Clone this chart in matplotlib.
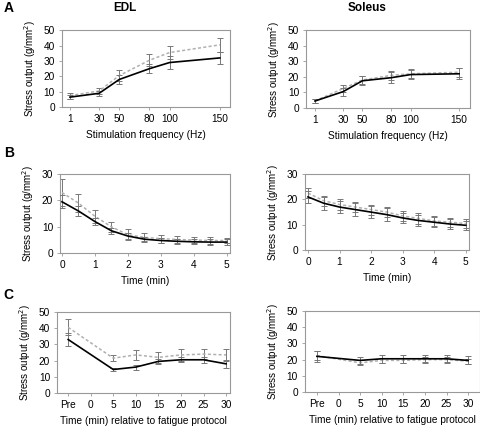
import matplotlib
matplotlib.use("Agg")
import matplotlib.pyplot as plt
import numpy as np

plt.rcParams['font.family'] = ['Liberation Sans', 'DejaVu Sans']

# panel A: force-frequency
freq = [1, 30, 50, 80, 100, 150]
edl_freq_solid = [6.5, 9, 18, 25, 29, 32]
edl_freq_solid_err = [1.5, 1.5, 3, 3, 4, 4]
edl_freq_dash = [7.5, 10.5, 20.5, 30.5, 35.5, 40.5]
edl_freq_dash_err = [2, 2, 3.5, 4, 4.5, 4.5]
sol_freq_solid = [4.5, 10.5, 17.5, 19.5, 21.5, 22]
sol_freq_solid_err = [1, 2.5, 3, 3.5, 3, 3.5]
sol_freq_dash = [4.5, 12.5, 18, 21, 22, 23]
sol_freq_dash_err = [1, 2.5, 2.5, 3, 3, 3]

# panel B: fatigue
time_min = [0, 0.5, 1, 1.5, 2, 2.5, 3, 3.5, 4, 4.5, 5]
edl_fat_solid = [19.5, 16, 12, 8.5, 6.5, 5.3, 4.8, 4.5, 4.3, 4.2, 4.2]
edl_fat_solid_err = [2.5, 2, 1.5, 1.2, 1, 1, 1, 1, 1, 1, 1]
edl_fat_dash = [23, 19, 14, 10, 7, 6, 5.5, 5.2, 5, 4.8, 4.8]
edl_fat_dash_err = [5, 3.5, 2.5, 2, 2, 1.5, 1.5, 1.2, 1.2, 1.2, 1]
sol_fat_solid = [21, 18.5, 17, 16, 15, 14, 12.7, 11.7, 11, 10.3, 9.8]
sol_fat_solid_err = [2.5, 2.5, 2.5, 2.5, 2.5, 2.5, 2, 2, 2, 1.8, 1.8]
sol_fat_dash = [22.5, 19.5, 18, 17, 16, 15, 13.5, 12.5, 11.5, 11, 10.5]
sol_fat_dash_err = [2, 2, 2, 2, 2, 2, 2, 2, 2, 1.8, 1.8]

# panel C: recovery ("0" has no data)
rec_labels = ['Pre', '0', '5', '10', '15', '20', '25', '30']
rec_pos = [0, 2, 3, 4, 5, 6, 7]
edl_rec_solid = [33, 14.5, 16, 19.5, 20.5, 20.5, 18]
edl_rec_solid_err = [4, 1, 1.5, 1.5, 1.5, 2, 2.5]
edl_rec_dash = [40.5, 21.5, 23.5, 22, 23.5, 24, 23.5]
edl_rec_dash_err = [5, 2, 3, 3.5, 3.5, 3, 3.5]
sol_rec_solid = [22, 19.5, 20.5, 20.5, 20.5, 20.5, 19.5]
sol_rec_solid_err = [3.5, 2, 2.5, 2.5, 2.5, 2.5, 2.5]
sol_rec_dash = [22.5, 18, 19.5, 19.5, 20, 20, 19]
sol_rec_dash_err = [3, 1.5, 1.5, 1.5, 1.5, 1.5, 1.5]

YLABEL = 'Stress output (g/mm$^2$)'
FRAME = '#999999'
ERRC = '#777777'


def draw(ax, x, solid, solid_err, dash, dash_err):
    ax.errorbar(x, dash, yerr=dash_err, color='#b0b0b0', ls=(0, (2, 1.5)), lw=1.1,
                ecolor=ERRC, elinewidth=0.7, capsize=2, capthick=0.7, zorder=2)
    ax.errorbar(x, solid, yerr=solid_err, color='black', ls='-', lw=1.2,
                ecolor=ERRC, elinewidth=0.7, capsize=2, capthick=0.7, zorder=3)


def style(ax, ylim, yticks, xlabel):
    for s in ax.spines.values():
        s.set_color(FRAME)
        s.set_linewidth(0.8)
    ax.set_ylim(*ylim)
    ax.set_yticks(yticks)
    ax.tick_params(direction='out', length=2.5, width=0.6, color=FRAME,
                   labelsize=7.3, pad=2.5)
    ax.set_ylabel(YLABEL, fontsize=7, labelpad=4)
    ax.set_xlabel(xlabel, fontsize=7.3, labelpad=4.5)


fig = plt.figure(figsize=(4.8, 4.32), dpi=100)

axA1 = fig.add_axes([0.129, 0.752, 0.35, 0.178])
axA2 = fig.add_axes([0.6375, 0.75, 0.342, 0.18])
axB1 = fig.add_axes([0.125, 0.414, 0.354, 0.183])
axB2 = fig.add_axes([0.635, 0.421, 0.342, 0.176])
axC1 = fig.add_axes([0.119, 0.0903, 0.36, 0.1875])
axC2 = fig.add_axes([0.635, 0.0926, 0.365, 0.1875])

draw(axA1, freq, edl_freq_solid, edl_freq_solid_err, edl_freq_dash, edl_freq_dash_err)
draw(axA2, freq, sol_freq_solid, sol_freq_solid_err, sol_freq_dash, sol_freq_dash_err)
for ax, xl in [(axA1, (-7, 160)), (axA2, (-8.3, 161.4))]:
    ax.set_xlim(*xl)
    ax.set_xticks(freq)
    style(ax, (0, 50), range(0, 51, 10), 'Stimulation frequency (Hz)')

draw(axB1, time_min, edl_fat_solid, edl_fat_solid_err, edl_fat_dash, edl_fat_dash_err)
draw(axB2, time_min, sol_fat_solid, sol_fat_solid_err, sol_fat_dash, sol_fat_dash_err)
for ax, xl in [(axB1, (-0.06, 5.1)), (axB2, (-0.1, 5.1))]:
    ax.set_xlim(*xl)
    ax.set_xticks(range(6))
    style(ax, (0, 30), range(0, 31, 10), 'Time (min)')

draw(axC1, rec_pos, edl_rec_solid, edl_rec_solid_err, edl_rec_dash, edl_rec_dash_err)
draw(axC2, rec_pos, sol_rec_solid, sol_rec_solid_err, sol_rec_dash, sol_rec_dash_err)
for ax, xl in [(axC1, (-0.49, 7.17)), (axC2, (-0.56, 7.55))]:
    ax.set_xlim(*xl)
    ax.set_xticks(range(len(rec_labels)))
    ax.set_xticklabels(rec_labels)
    style(ax, (0, 50), range(0, 51, 10), 'Time (min) relative to fatigue protocol')

fig.text(0.26, 0.982, 'EDL', fontsize=8.5, fontweight='bold', ha='center', va='center')
fig.text(0.765, 0.982, 'Soleus', fontsize=8.5, fontweight='bold', ha='center', va='center')
fig.text(0.008, 0.982, 'A', fontsize=10, fontweight='bold', va='center')
fig.text(0.008, 0.646, 'B', fontsize=10, fontweight='bold', va='center')
fig.text(0.008, 0.317, 'C', fontsize=10, fontweight='bold', va='center')

fig.savefig('out.png', dpi=100)
